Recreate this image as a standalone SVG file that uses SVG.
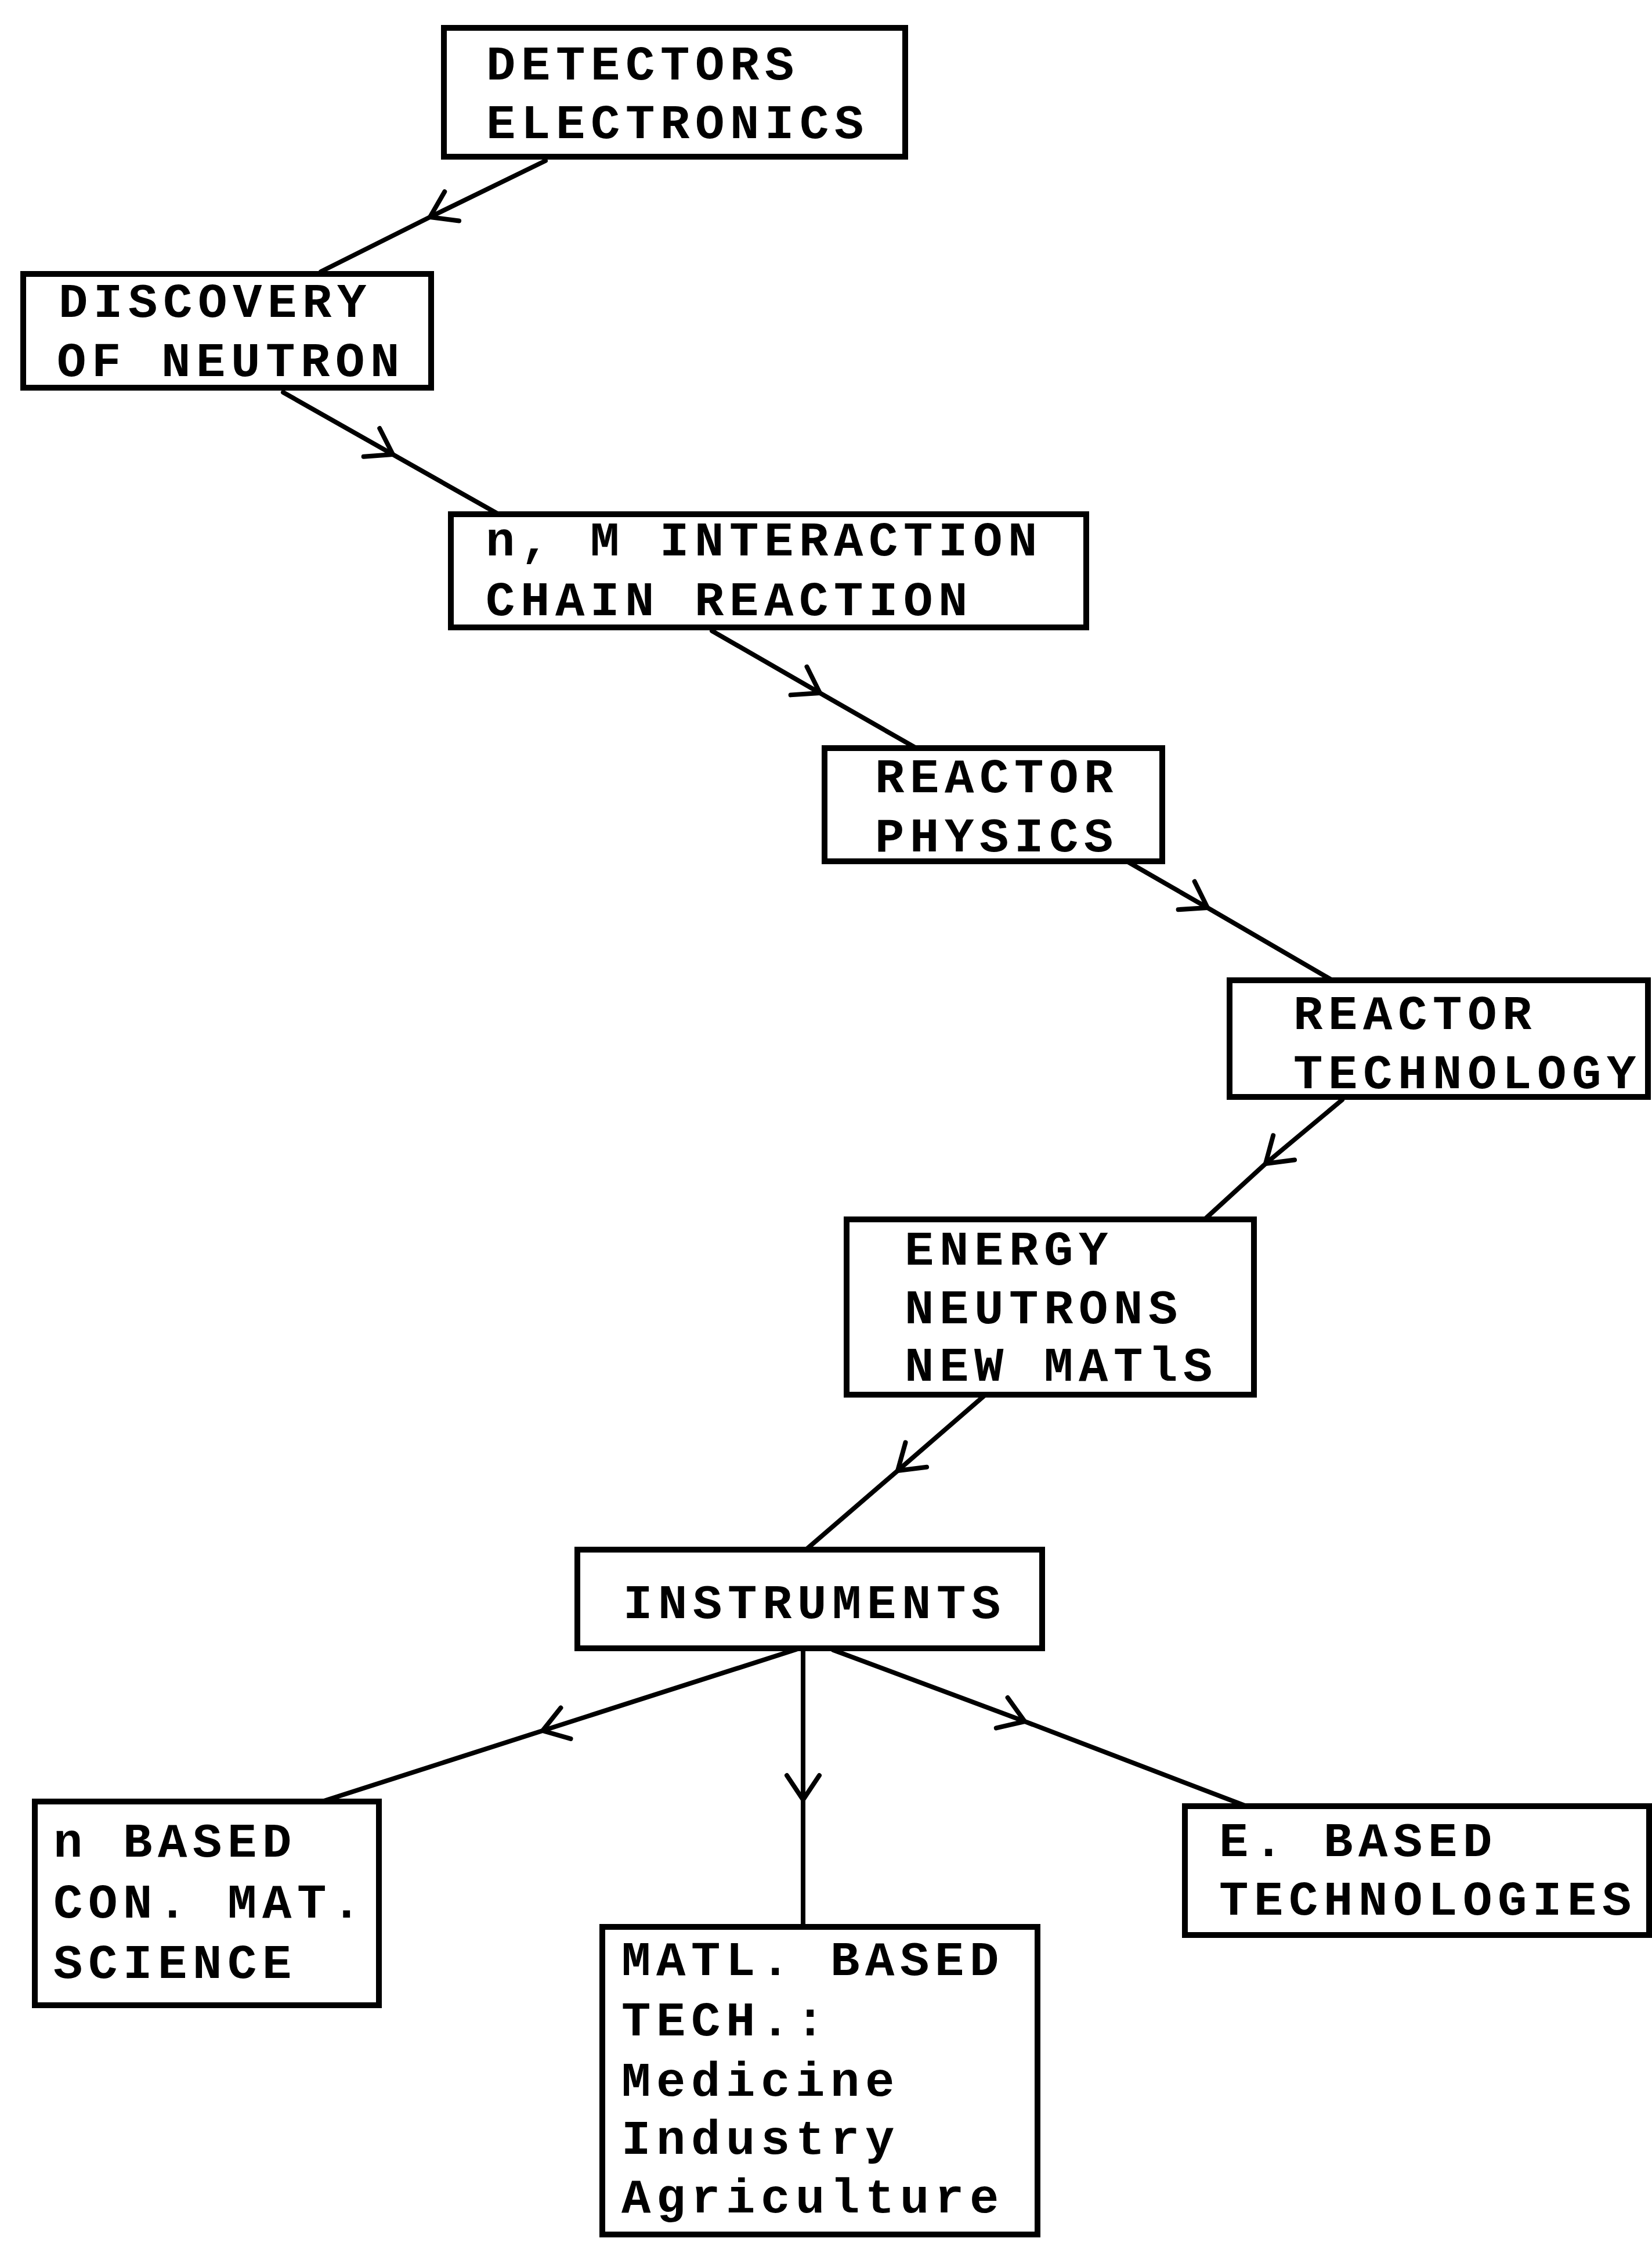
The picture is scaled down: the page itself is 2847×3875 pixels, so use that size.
<svg xmlns="http://www.w3.org/2000/svg" width="2847" height="3875" viewBox="0 0 2847 3875">
<style>
.box{fill:#fff;stroke:#000;stroke-width:10}
.t{font-family:"Liberation Mono","Courier New",monospace;font-size:84px;letter-spacing:9.6px;font-weight:bold;fill:#000}
.c{fill:none;stroke:#000;stroke-width:8;stroke-linecap:round;marker-mid:url(#ah)}
</style>
<defs>
<marker id="ah" markerUnits="userSpaceOnUse" markerWidth="80" markerHeight="80" refX="0" refY="0" orient="auto" overflow="visible">
<path d="M -42 -28 L 0 0 L -42 28" fill="none" stroke="#000" stroke-width="8" stroke-linecap="round" stroke-linejoin="round"/>
</marker>
</defs>
<rect width="2847" height="3875" fill="#fff"/>
<g id="connectors">
<path class="c" d="M 940 277 L 741 374 L 553 468"/>
<path class="c" d="M 488 676 L 677 783 L 861 887"/>
<path class="c" d="M 1227 1087 L 1413 1194 L 1579 1289"/>
<path class="c" d="M 1942 1484 L 2081 1564 L 2296 1689"/>
<path class="c" d="M 2313 1895 L 2181 2005 L 2076 2101"/>
<path class="c" d="M 1696 2405 L 1547 2534 L 1389 2670"/>
<path class="c" d="M 1372 2842 L 935 2982 L 555 3104"/>
<path class="c" d="M 1384 2842 L 1384 3101 L 1384 3320"/>
<path class="c" d="M 1436 2843 L 1766 2966 L 2148 3112"/>
</g>
<g id="detectors">
<rect class="box" x="765" y="48" width="795" height="222"/>
<text class="t" x="838" y="137">DETECTORS</text>
<text class="t" x="838" y="238">ELECTRONICS</text>
</g>
<g id="discovery">
<rect class="box" x="40" y="472" width="703" height="196"/>
<text class="t" x="101" y="546">DISCOVERY</text>
<text class="t" x="98" y="648">OF NEUTRON</text>
</g>
<g id="interaction">
<rect class="box" x="777" y="886" width="1095" height="195"/>
<text class="t" x="837" y="957">n, M INTERACTION</text>
<text class="t" x="837" y="1060">CHAIN REACTION</text>
</g>
<g id="reactor-physics">
<rect class="box" x="1421" y="1289" width="582" height="195"/>
<text class="t" x="1508" y="1365">REACTOR</text>
<text class="t" x="1508" y="1467">PHYSICS</text>
</g>
<g id="reactor-technology">
<rect class="box" x="2119" y="1689" width="721" height="201"/>
<text class="t" x="2229" y="1773">REACTOR</text>
<text class="t" x="2229" y="1875">TECHNOLOGY</text>
</g>
<g id="energy">
<rect class="box" x="1459" y="2101" width="702" height="302"/>
<text class="t" x="1559" y="2179">ENERGY</text>
<text class="t" x="1559" y="2280">NEUTRONS</text>
<text class="t" x="1559" y="2379">NEW MATlS</text>
</g>
<g id="instruments">
<rect class="box" x="995" y="2670" width="801" height="170"/>
<text class="t" x="1074" y="2788">INSTRUMENTS</text>
</g>
<g id="n-based">
<rect class="box" x="60" y="3104" width="593" height="351"/>
<text class="t" x="92" y="3199">n BASED</text>
<text class="t" x="92" y="3304">CON. MAT.</text>
<text class="t" x="92" y="3408">SCIENCE</text>
</g>
<g id="matl-based">
<rect class="box" x="1038" y="3320" width="750" height="530"/>
<text class="t" x="1071" y="3403">MATL. BASED</text>
<text class="t" x="1071" y="3507">TECH.:</text>
<text class="t" x="1071" y="3611">Medicine</text>
<text class="t" x="1071" y="3711">Industry</text>
<text class="t" x="1071" y="3812">Agriculture</text>
</g>
<g id="e-based">
<rect class="box" x="2042" y="3112" width="800" height="222"/>
<text class="t" x="2101" y="3198">E. BASED</text>
<text class="t" x="2101" y="3299">TECHNOLOGIES</text>
</g>
</svg>
